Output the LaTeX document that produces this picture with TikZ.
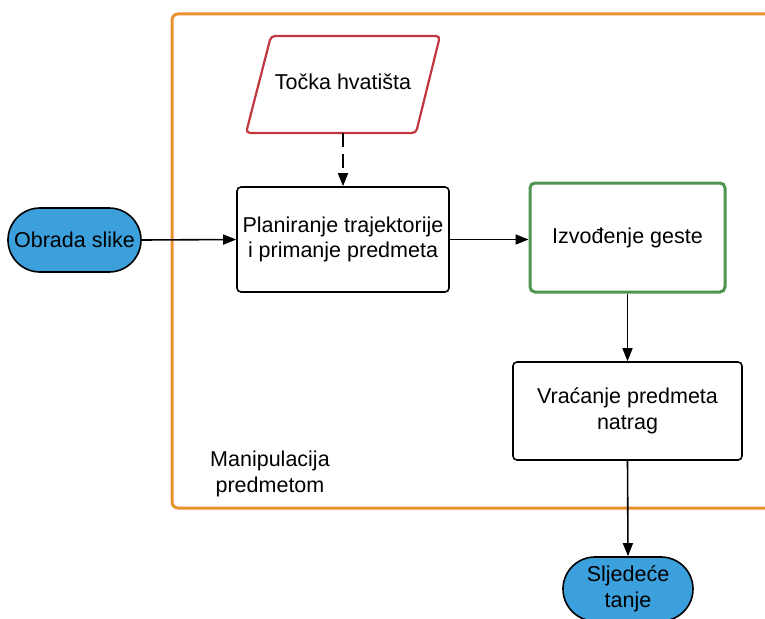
\documentclass[tikz,border=0pt]{standalone}
\usepackage{fontspec}
\setmainfont{Liberation Sans}
\usetikzlibrary{arrows.meta,shapes.misc}
\definecolor{frameorange}{HTML}{E8912F}
\definecolor{inputred}{HTML}{C23640}
\definecolor{stepgreen}{HTML}{4E9550}
\definecolor{termblue}{HTML}{3BA0DC}
\tikzset{
  every node/.style={font=\fontsize{21.5}{25.5}\selectfont, inner sep=0pt, align=center},
  procbox/.style={draw=black, line width=1.6pt, rounded corners=4pt, fill=white},
  gestbox/.style={draw=stepgreen, line width=3pt, rounded corners=5pt, fill=white},
  termnode/.style={rounded rectangle, draw=black, line width=1.6pt, fill=termblue},
  inputshape/.style={draw=inputred, line width=2.2pt, rounded corners=4pt, fill=white},
  flow/.style={line width=1.6pt, -{Triangle[length=13pt,width=10pt]}},
}
\begin{document}
\begin{tikzpicture}[x=1pt,y=-1pt]
\useasboundingbox (0,0) rectangle (765,618);
\clip (0,0) rectangle (765,618);

% group frame (runs past the right edge)
\draw[frameorange, line width=3pt, rounded corners=6pt] (172,14) rectangle (800,508);
\node (grp) at (270,474) {Manipulacija\\predmetom};

% input parallelogram
\draw[inputshape] (271,36) -- (440,36) -- (416,133) -- (246,133) -- cycle;
\node (pt) at (343,82) {Točka hvatišta};
\coordinate (ptbottom) at (343,133);

% process nodes
\node[procbox, minimum width=212pt, minimum height=105pt] (plan) at (343,239.5) {Planiranje trajektorije\\i primanje predmeta};
\node[gestbox, minimum width=195pt, minimum height=109pt] (gest) at (627.5,237.5) {Izvođenje geste};
\node[procbox, minimum width=229pt, minimum height=98pt] (ret) at (627.5,411) {Vraćanje predmeta\\natrag};
\node[termnode, minimum width=133pt, minimum height=64pt] (img) at (74.5,240) {Obrada slike};
\node[termnode, minimum width=130pt, minimum height=64pt] (next) at (628,589) {Sljedeće\\tanje};

% connectors
\draw[flow, dashed, dash pattern=on 14pt off 7pt] (ptbottom) -- (plan.north);
\draw[flow] (img.east) -- (plan.west);
\draw[flow] (plan.east) -- (plan.east -| gest.west);
\draw[flow] (gest.south) -- (ret.north);
\draw[flow] (ret.south) -- (next.north);
\end{tikzpicture}
\end{document}
